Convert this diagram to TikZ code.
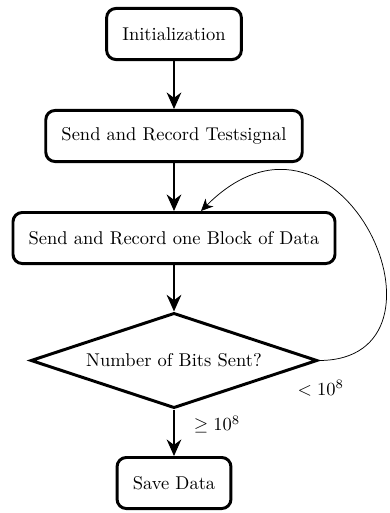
\documentclass[tikz,border=0pt]{standalone}
\usetikzlibrary{shapes.geometric,arrows.meta,calc}
\begin{document}
\begin{tikzpicture}[x=0.5407pt,y=-0.5407pt,
  box/.style={draw,ultra thick,rounded corners=5pt,minimum height=27.6pt,inner xsep=8.5pt,inner ysep=0pt,font=\normalsize},
  dec/.style={draw,ultra thick,diamond,minimum width=155pt,minimum height=51.5pt,inner sep=0pt,aspect=3},
  flow/.style={semithick,-{Stealth[length=9pt,width=8pt,inset=3pt]}},
  loop/.style={thin,-{Stealth[length=6.5pt,width=6pt,inset=2pt]}}]
\useasboundingbox (0,0) rectangle (390,513);
\node[box] (init) at (174,34) {Initialization};
\node[box] (test) at (174,136) {Send and Record Testsignal};
\node[box] (blk) at (174,238) {Send and Record one Block of Data};
\node[dec] (dia) at (174,360.5) {Number of Bits Sent?};
\node[box] (save) at (174,483) {Save Data};
\draw[flow] (init) -- (test);
\draw[flow] (test) -- (blk);
\draw[flow] (blk) -- (dia);
\draw[flow] (dia.south) -- node[at start,xshift=23.3pt,yshift=-8.1pt] {$\geq 10^8$} (save);
\draw[loop] (dia.east) .. controls +(150,0) and +(141,-141) .. node[at start,xshift=1pt,yshift=-15.1pt] {$<10^8$} (blk.45);
\end{tikzpicture}
\end{document}
